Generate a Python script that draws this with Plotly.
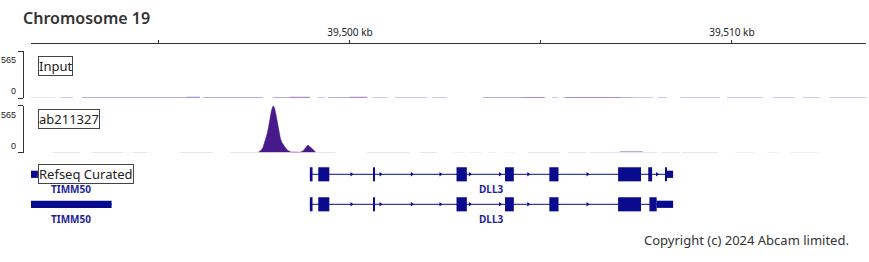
import plotly.graph_objects as go

# ---------------- data ----------------
x_range_kb = [39491.65, 39513.51]
tick_vals_kb = [39495, 39500, 39505, 39510]
tick_text = ["", "39,500 kb", "", "39,510 kb"]
track_max = 565

# Input track: low background coverage (start kb, end kb, value)
input_noise = [
    (39491.65, 39492.28, 4), (39492.41, 39492.75, 5), (39492.98, 39495.73, 8),
    (39495.73, 39496.07, 16), (39496.15, 39497.72, 8), (39497.98, 39498.43, 8),
    (39498.43, 39498.95, 14), (39499.14, 39499.35, 6), (39499.42, 39500.00, 8),
    (39500.00, 39500.45, 14), (39500.58, 39500.99, 7), (39501.18, 39502.02, 7),
    (39502.15, 39502.54, 5), (39503.48, 39504.53, 8), (39504.53, 39505.10, 12),
    (39505.29, 39505.45, 5), (39505.58, 39505.68, 8), (39505.68, 39507.07, 12),
    (39507.07, 39507.41, 8), (39507.41, 39507.93, 7), (39508.06, 39508.30, 5),
    (39508.64, 39509.69, 7), (39509.87, 39510.81, 7), (39511.07, 39511.64, 6),
    (39511.86, 39512.30, 6), (39512.56, 39513.51, 6),
]

# ab211327 track: background coverage (start kb, end kb, value)
ab_noise = [
    (39492.22, 39492.93, 5), (39493.25, 39494.06, 5), (39494.32, 39494.69, 5),
    (39495.55, 39496.41, 6), (39496.86, 39497.57, 6), (39499.14, 39499.61, 7),
    (39500.45, 39501.57, 5), (39501.83, 39502.28, 5), (39502.67, 39503.01, 4),
    (39503.14, 39503.46, 4), (39503.61, 39503.85, 4), (39504.06, 39504.32, 4),
    (39504.66, 39505.50, 5), (39505.71, 39506.20, 5), (39506.28, 39507.07, 7),
    (39507.07, 39507.67, 14), (39507.67, 39508.04, 7), (39508.17, 39508.64, 5),
    (39508.69, 39509.63, 5), (39510.08, 39510.60, 4), (39510.92, 39511.26, 4),
    (39511.52, 39512.30, 4),
]

# ab211327 track: peak profile
ab_peak_kb = [39497.591, 39497.670, 39497.722, 39497.775, 39497.827, 39497.866,
              39497.906, 39497.945, 39497.984, 39498.023, 39498.063, 39498.102,
              39498.141, 39498.180, 39498.220, 39498.272, 39498.324, 39498.377,
              39498.455, 39498.586, 39498.691, 39498.769, 39498.835, 39498.900,
              39498.966, 39499.031, 39499.110]
ab_peak_val = [0, 24, 60, 132, 216, 300,
               409, 505, 560, 540, 457, 361,
               252, 168, 120, 78, 48, 24,
               6, 5, 3, 18, 60, 90,
               66, 30, 0]

# RefSeq transcripts
tx_names = ["TIMM50", "DLL3", "TIMM50", "DLL3"]
tx_rows = [0, 0, 1, 1]
tx_starts = [39491.30, 39498.95, 39491.30, 39498.95]
tx_ends = [39491.83, 39508.46, 39493.76, 39508.46]
tx_exons = [
    [],
    [(39498.95, 39499.02), (39499.17, 39499.46), (39500.61, 39500.64),
     (39502.79, 39503.06), (39504.06, 39504.29), (39505.22, 39505.46),
     (39507.02, 39507.62), (39507.81, 39507.91), (39508.25, 39508.28)],
    [],
    [(39498.95, 39499.02), (39499.17, 39499.46), (39500.61, 39500.64),
     (39502.79, 39503.06), (39504.06, 39504.29), (39505.22, 39505.46),
     (39507.02, 39507.62), (39507.84, 39508.03)],
]
tx_utrs = [
    [(39491.30, 39491.83)],
    [(39508.28, 39508.46)],
    [(39491.30, 39493.76)],
    [(39508.03, 39508.46)],
]
tx_arrows = [
    [],
    [39500.04, 39500.80, 39501.62, 39502.37, 39503.14, 39503.93, 39504.67, 39506.22, 39508.04],
    [],
    [39500.04, 39500.80, 39501.62, 39502.37, 39503.14, 39503.93, 39504.67, 39506.22],
]
tx_label_kb = [39492.70, 39503.71, 39492.70, 39503.71]

track_names = ["Input", "ab211327", "Refseq Curated"]

# ---------------- styling ----------------
W, H = 869, 262
SIG = "#48198a"
SIG_NOISE = "rgba(95,50,175,0.55)"
GENE = "#0a0a8c"
GENE_TXT = "#1f1f99"


def px_x(p):
    return p / W


def px_y(p):
    return 1 - p / H


def seg_xy(segs):
    xs, ys = [], []
    for s, e, v in segs:
        xs += [s, s, e, e]
        ys += [0, v, v, 0]
    return xs, ys


fig = go.Figure()

# signal tracks
nx, ny = seg_xy(input_noise)
fig.add_trace(go.Scatter(x=nx, y=ny, mode="lines", fill="tozeroy", line=dict(width=0),
                         fillcolor=SIG_NOISE, xaxis="x", yaxis="y", hoverinfo="skip"))
ax_, ay_ = seg_xy(ab_noise)
fig.add_trace(go.Scatter(x=ax_, y=ay_, mode="lines", fill="tozeroy", line=dict(width=0),
                         fillcolor=SIG_NOISE, xaxis="x", yaxis="y2", hoverinfo="skip"))
fig.add_trace(go.Scatter(x=ab_peak_kb, y=ab_peak_val, mode="lines", fill="tozeroy",
                         line=dict(width=0.5, color=SIG), fillcolor=SIG,
                         xaxis="x", yaxis="y2", hoverinfo="skip"))

# gene track
EXON_H = 0.47
UTR_H = 0.24
for i, name in enumerate(tx_names):
    yrow = -tx_rows[i]
    fig.add_trace(go.Scatter(x=[tx_starts[i], tx_ends[i]], y=[yrow, yrow], mode="lines",
                             line=dict(color=GENE, width=1), xaxis="x", yaxis="y3",
                             hoverinfo="skip"))
    if tx_exons[i]:
        fig.add_trace(go.Bar(orientation="h", base=[s for s, e in tx_exons[i]],
                             x=[e - s for s, e in tx_exons[i]], y=[yrow] * len(tx_exons[i]),
                             width=EXON_H, marker=dict(color=GENE, line=dict(width=0)),
                             xaxis="x", yaxis="y3", hoverinfo="skip"))
    if tx_utrs[i]:
        fig.add_trace(go.Bar(orientation="h", base=[s for s, e in tx_utrs[i]],
                             x=[e - s for s, e in tx_utrs[i]], y=[yrow] * len(tx_utrs[i]),
                             width=UTR_H, marker=dict(color=GENE, line=dict(width=0)),
                             xaxis="x", yaxis="y3", hoverinfo="skip"))
    if tx_arrows[i]:
        fig.add_trace(go.Scatter(x=tx_arrows[i], y=[yrow] * len(tx_arrows[i]), mode="markers",
                                 marker=dict(symbol="triangle-right", size=4, color=GENE,
                                             line=dict(width=0)),
                                 xaxis="x", yaxis="y3", hoverinfo="skip"))

annotations = []
# title
annotations.append(dict(text="Chromosome 19", x=px_x(21), y=px_y(18), xref="paper", yref="paper",
                        xanchor="left", yanchor="middle", showarrow=False,
                        font=dict(family="Noto Sans", size=16, color="#333333", weight=600)))
# copyright
annotations.append(dict(text="Copyright (c) 2024 Abcam limited.", x=px_x(851), y=px_y(240),
                        xref="paper", yref="paper", xanchor="right", yanchor="middle",
                        showarrow=False, font=dict(family="Noto Sans", size=13, color="#333333")))
# track labels
for name, yc in zip(track_names, [66, 119, 174]):
    annotations.append(dict(text=name, x=px_x(38), y=px_y(yc), xref="paper", yref="paper",
                            xanchor="left", yanchor="middle", showarrow=False,
                            bgcolor="white", bordercolor="#444444", borderwidth=1, borderpad=0,
                            font=dict(family="Noto Sans", size=13, color="#222222")))
# scale labels
for yref in ["y", "y2"]:
    annotations.append(dict(text=str(track_max), x=px_x(18), y=track_max, xref="paper", yref=yref,
                            xanchor="right", yanchor="top", yshift=-2, showarrow=False,
                            font=dict(family="Liberation Sans", size=9, color="#222222")))
    annotations.append(dict(text="0", x=px_x(18), y=0, xref="paper", yref=yref,
                            xanchor="right", yanchor="bottom", showarrow=False,
                            font=dict(family="Liberation Sans", size=9, color="#222222")))
# gene labels
for i, name in enumerate(tx_names):
    annotations.append(dict(text="<b>%s</b>" % name, x=tx_label_kb[i], y=-tx_rows[i], xref="x",
                            yref="y3", xanchor="center", yanchor="middle", yshift=-15,
                            showarrow=False,
                            font=dict(family="Noto Sans", size=10, color=GENE_TXT)))

track_axis = dict(range=[0, track_max], anchor="free", position=px_x(22.5), showline=True,
                  linecolor="#333333", linewidth=1, ticks="outside", ticklen=5,
                  tickcolor="#333333", tickvals=[0, track_max], showticklabels=False,
                  showgrid=False, zeroline=False, fixedrange=True)

fig.update_layout(
    width=W, height=H, autosize=False,
    margin=dict(l=0, r=0, t=0, b=0),
    paper_bgcolor="white", plot_bgcolor="white",
    showlegend=False, barmode="overlay",
    xaxis=dict(domain=[px_x(31), px_x(866)], range=x_range_kb, anchor="free",
               position=px_y(42.5), side="top", showline=True, linecolor="#333333",
               linewidth=1, ticks="outside", ticklen=3, tickcolor="#333333",
               tickvals=tick_vals_kb, ticktext=tick_text, showgrid=False, zeroline=False,
               tickfont=dict(family="Noto Sans", size=10, color="#222222")),
    yaxis=dict(domain=[px_y(98), px_y(51)], **track_axis),
    yaxis2=dict(domain=[px_y(152.5), px_y(105.5)], **track_axis),
    yaxis3=dict(domain=[px_y(230), px_y(160)], range=[-1.857, 0.477], visible=False,
                anchor="free", position=px_x(31), fixedrange=True),
    annotations=annotations,
)

fig.write_html("out.html")
